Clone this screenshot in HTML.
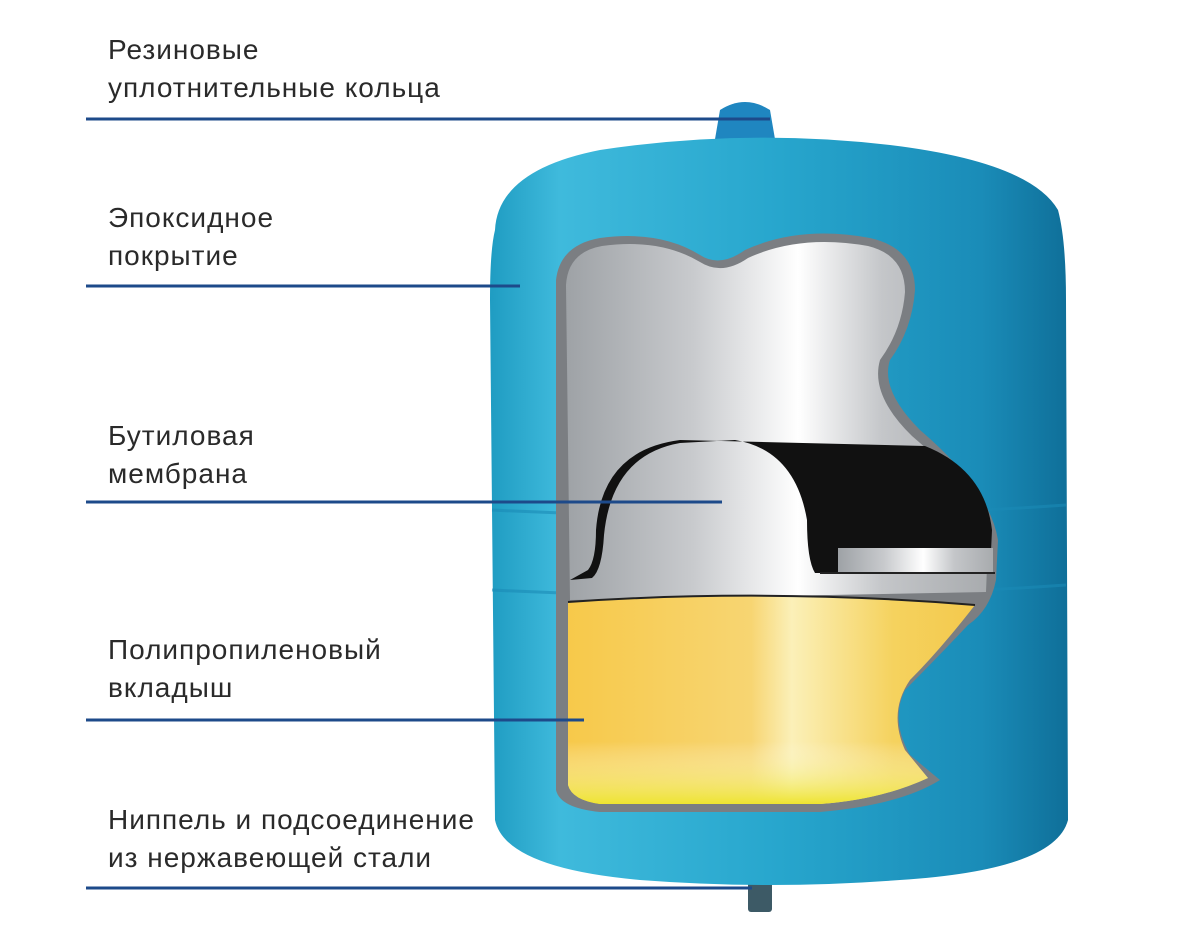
<!DOCTYPE html>
<html><head><meta charset="utf-8"><style>
body{margin:0;background:#fff;width:1200px;height:950px;overflow:hidden;position:relative;font-family:"Liberation Sans",sans-serif}
.t{position:absolute;left:108px;font-size:28px;line-height:38px;letter-spacing:1px;color:#2a2a2a}
</style></head><body>
<svg width="1200" height="950" style="position:absolute;left:0;top:0">
<defs>
<linearGradient id="blue" x1="0" x2="1" y1="0" y2="0">
<stop offset="0" stop-color="#1f9cc2"/><stop offset="0.12" stop-color="#3fbadc"/><stop offset="0.5" stop-color="#27a6cd"/><stop offset="0.85" stop-color="#1a8cb8"/><stop offset="1" stop-color="#0f6f99"/></linearGradient>
<linearGradient id="silver" x1="0" x2="1" y1="0" y2="0">
<stop offset="0" stop-color="#9ea2a6"/><stop offset="0.3" stop-color="#c8cacd"/><stop offset="0.55" stop-color="#ffffff"/><stop offset="0.75" stop-color="#c4c6c9"/><stop offset="1" stop-color="#a8abae"/></linearGradient>
<linearGradient id="yel" x1="0" x2="1" y1="0" y2="0">
<stop offset="0" stop-color="#f7c94a"/><stop offset="0.45" stop-color="#f7d572"/><stop offset="0.55" stop-color="#fbf0b8"/><stop offset="0.8" stop-color="#f5d25e"/><stop offset="1" stop-color="#f4c94d"/></linearGradient>
<linearGradient id="yelb" x1="0" x2="0" y1="0" y2="1"><stop offset="0.7" stop-color="#fff0" /><stop offset="1" stop-color="#eee430"/></linearGradient>
</defs>
<path d="M714 145 L720 110 Q745 94 770 110 L776 145 Z" fill="#1f86c0"/>
<rect x="748" y="878" width="24" height="34" rx="3" fill="#3d5a66"/>
<path d="M495 230 Q498 170 600 150 Q745 128 890 145 Q1030 162 1058 210 Q1066 240 1066 300 L1068 820 Q1055 870 900 880 Q770 890 640 880 Q505 868 495 820 L490 300 Q490 250 495 230 Z" fill="url(#blue)"/>
<path d="M492 510 Q780 525 1066 505" stroke="#1a8ab5" stroke-width="3" fill="none" opacity=".6"/>
<path d="M492 590 Q780 605 1066 585" stroke="#1a8ab5" stroke-width="3" fill="none" opacity=".6"/>
<path d="M556 280 Q560 245 600 238 Q660 230 700 255 Q720 268 745 250 Q800 225 870 238 Q915 248 915 290 Q912 330 890 360 Q880 390 920 430 Q990 490 998 540 L996 580 Q990 610 968 625 Q935 660 905 690 Q890 720 910 755 L940 780 Q900 805 820 812 L600 812 Q560 808 556 790 Z" fill="#7b7e82"/>
<path d="M566 285 Q568 252 602 246 Q660 238 700 262 Q722 276 748 258 Q800 234 868 246 Q905 255 905 292 Q902 330 880 360 Q870 395 912 436 Q982 495 988 542 L986 592 L570 600 Z" fill="url(#silver)"/>
<path d="M568 602 Q770 588 975 605 Q940 650 910 680 Q888 712 905 750 L928 778 Q880 800 820 804 L600 804 Q572 800 568 785 Z" fill="url(#yel)"/>
<path d="M568 602 Q770 588 975 605 Q940 650 910 680 Q888 712 905 750 L928 778 Q880 800 820 804 L600 804 Q572 800 568 785 Z" fill="url(#yelb)"/>
<path d="M568 602 Q770 588 975 605" stroke="#222" stroke-width="2" fill="none"/>
<path d="M570 580 L588 570 Q596 560 596 530 Q602 450 680 440 L925 446 Q985 470 992 530 L990 573 L815 573 Q807 560 807 520 Q795 450 735 440 L680 443 Q612 455 604 535 Q602 570 592 578 Z" fill="#111"/>
<path d="M838 548 L993 548 L993 572 L838 572 Z" fill="url(#silver)"/>
<path d="M820 573 L995 573" stroke="#222" stroke-width="2"/>
<g stroke="#1d4a8a" stroke-width="3">
<line x1="86" y1="119" x2="770" y2="119"/>
<line x1="86" y1="286" x2="520" y2="286"/>
<line x1="86" y1="502" x2="722" y2="502"/>
<line x1="86" y1="720" x2="584" y2="720"/>
<line x1="86" y1="888" x2="752" y2="888"/>
</g>
</svg>
<div class="t" style="top:31px">Резиновые<br>уплотнительные кольца</div>
<div class="t" style="top:199px">Эпоксидное<br>покрытие</div>
<div class="t" style="top:417px">Бутиловая<br>мембрана</div>
<div class="t" style="top:631px">Полипропиленовый<br>вкладыш</div>
<div class="t" style="top:801px">Ниппель и подсоединение<br>из нержавеющей стали</div>
</body></html>
